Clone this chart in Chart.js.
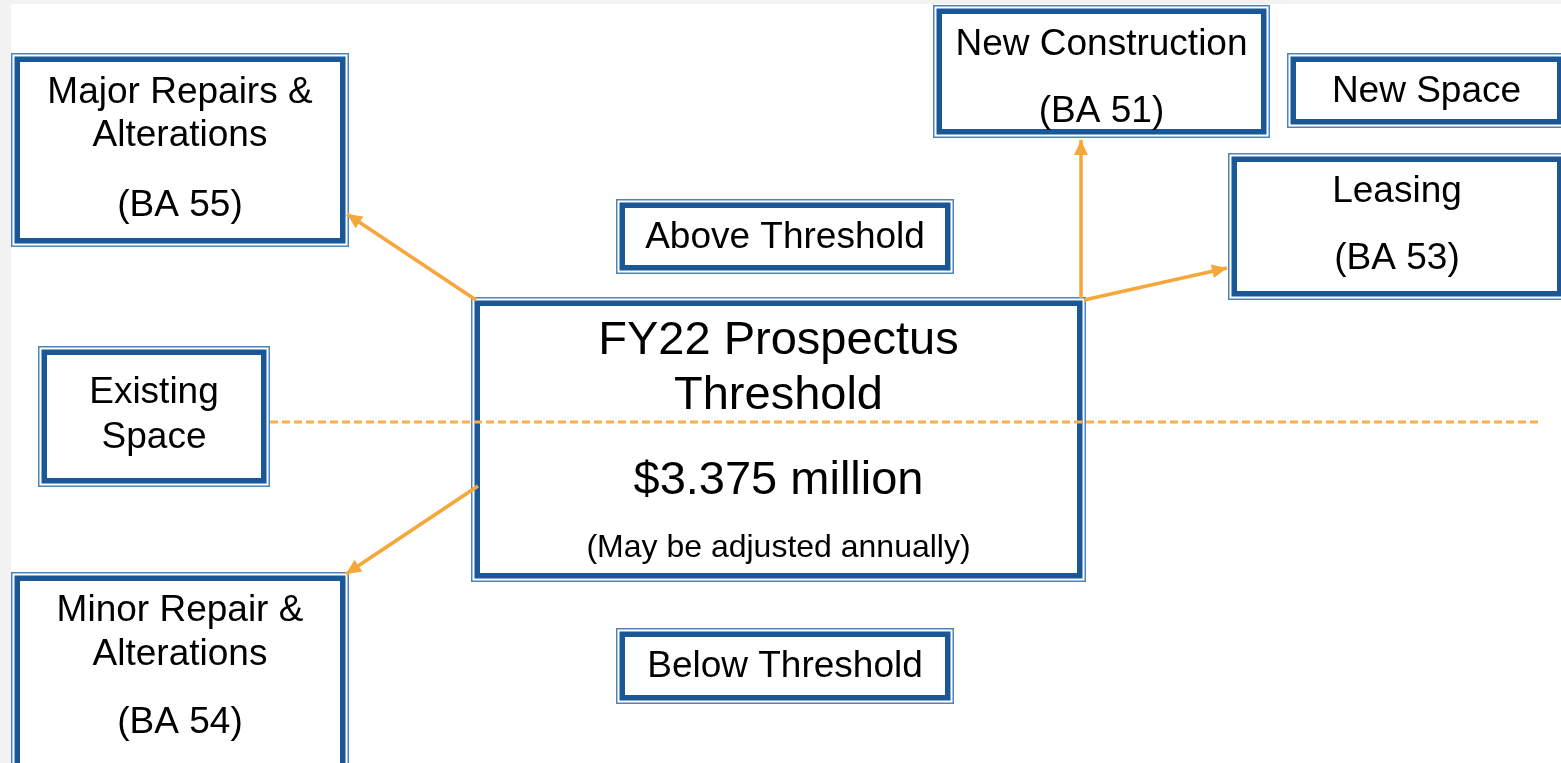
<!DOCTYPE html>
<html>
<head>
<meta charset="utf-8">
<script src="https://cdn.jsdelivr.net/npm/chart.js@4.4.1/dist/chart.umd.min.js"></script>
<style>
  html, body { margin: 0; padding: 0; background: #ffffff; font-family: Arial, "Liberation Sans", sans-serif; }
  #wrap { width: 1561px; height: 763px; }
</style>
</head>
<body>
<div id="wrap"><canvas id="myChart" width="1561" height="763"></canvas></div>
<script>
// box texts
const boxLabels = [
  ['Major Repairs &', 'Alterations', '(BA 55)'],
  ['Existing', 'Space'],
  ['Minor Repair &', 'Alterations', '(BA 54)'],
  ['Above Threshold'],
  ['Below Threshold'],
  ['FY22 Prospectus', 'Threshold', '$3.375 million', '(May be adjusted annually)'],
  ['New Construction', '(BA 51)'],
  ['New Space'],
  ['Leasing', '(BA 53)']
];

// threshold line and arrow ends
const thresholdLine = [[270, 422], [1541, 422]];
const arrowPaths = [
  [[476, 300], [347, 214]],
  [[478, 486], [346, 574]],
  [[1081, 298], [1081, 140]],
  [[1084, 300], [1227, 268]]
];

// layout: frame [x0, y0, x1, y1], line centres, font sizes
const boxLayout = [
  { frame: [11, 53, 349, 247], ys: [93, 136, 206], sizes: [37, 37, 37] },
  { frame: [38, 346, 270, 487], ys: [393, 438], sizes: [37, 37] },
  { frame: [11, 572, 349, 775], ys: [611, 655, 723], sizes: [37, 37, 37] },
  { frame: [616, 199, 954, 274], ys: [238], sizes: [37] },
  { frame: [616, 628, 954, 704], ys: [667], sizes: [37] },
  { frame: [471, 297, 1086, 582], ys: [341, 396, 481, 548], sizes: [47, 47, 47, 32] },
  { frame: [933, 5, 1270, 138], ys: [45, 112], sizes: [37, 37] },
  { frame: [1287, 53, 1566, 128], ys: [92], sizes: [37] },
  { frame: [1228, 153, 1566, 300], ys: [192, 259], sizes: [37, 37] }
];

const ORANGE = '#f6a73a';
const BLUE = '#1a5797';
const BLUE_THIN = '#4f83bb';
const FONT = 'Arial, "Liberation Sans", sans-serif';

const toPts = (p) => p.map(([x, y]) => ({ x: x, y: y }));

const datasets = [{
  data: toPts(thresholdLine),
  showLine: true,
  borderColor: '#fbb04c',
  borderWidth: 3,
  borderDash: [8, 4],
  pointRadius: 0
}];
arrowPaths.forEach(p => {
  datasets.push({
    data: toPts(p),
    showLine: true,
    borderColor: ORANGE,
    borderWidth: 3.5,
    pointRadius: 0,
    isArrow: true
  });
});

const diagramPlugin = {
  id: 'diagram',
  beforeDraw(chart) {
    const c = chart.ctx;
    c.save();
    c.fillStyle = '#f2f2f2';
    c.fillRect(0, 0, chart.width, chart.height);
    c.fillStyle = '#ffffff';
    c.fillRect(11, 4, chart.width - 11, chart.height - 4);
    c.restore();
  },
  beforeDatasetsDraw(chart) {
    const c = chart.ctx;
    const xs = chart.scales.x, ys = chart.scales.y;
    c.save();
    boxLayout.forEach((b, i) => {
      const x0 = xs.getPixelForValue(b.frame[0]);
      const x1 = xs.getPixelForValue(b.frame[2]);
      const y0 = ys.getPixelForValue(b.frame[1]);
      const y1 = ys.getPixelForValue(b.frame[3]);
      c.fillStyle = '#ffffff';
      c.fillRect(x0, y0, x1 - x0, y1 - y0);
      // thin outer line
      c.strokeStyle = BLUE_THIN;
      c.lineWidth = 1.5;
      c.strokeRect(x0 + 0.75, y0 + 0.75, x1 - x0 - 1.5, y1 - y0 - 1.5);
      // thick inner line
      c.strokeStyle = BLUE;
      c.lineWidth = 5.5;
      c.strokeRect(x0 + 6.25, y0 + 6.25, x1 - x0 - 12.5, y1 - y0 - 12.5);
      c.fillStyle = '#000000';
      c.textAlign = 'center';
      c.textBaseline = 'middle';
      const cx = (x0 + x1) / 2;
      boxLabels[i].forEach((t, j) => {
        c.font = b.sizes[j] + 'px ' + FONT;
        c.fillText(t, cx, ys.getPixelForValue(b.ys[j]));
      });
    });
    c.restore();
  },
  afterDatasetsDraw(chart) {
    const c = chart.ctx;
    c.save();
    c.fillStyle = ORANGE;
    chart.data.datasets.forEach((ds, i) => {
      if (!ds.isArrow) return;
      const pts = chart.getDatasetMeta(i).data;
      const a = pts[0], b = pts[1];
      const ang = Math.atan2(b.y - a.y, b.x - a.x);
      const len = 15, half = 7;
      c.beginPath();
      c.moveTo(b.x, b.y);
      c.lineTo(b.x - len * Math.cos(ang) + half * Math.sin(ang), b.y - len * Math.sin(ang) - half * Math.cos(ang));
      c.lineTo(b.x - len * Math.cos(ang) - half * Math.sin(ang), b.y - len * Math.sin(ang) + half * Math.cos(ang));
      c.closePath();
      c.fill();
    });
    c.restore();
  }
};

const ctx = document.getElementById('myChart');
new Chart(ctx, {
  type: 'scatter',
  data: { datasets: datasets },
  options: {
    responsive: false,
    animation: false,
    layout: { padding: 0 },
    plugins: {
      legend: { display: false },
      tooltip: { enabled: false }
    },
    scales: {
      x: { type: 'linear', min: 0, max: 1561, display: false },
      y: { type: 'linear', min: 0, max: 763, reverse: true, display: false }
    }
  },
  plugins: [diagramPlugin]
});
</script>
</body>
</html>
